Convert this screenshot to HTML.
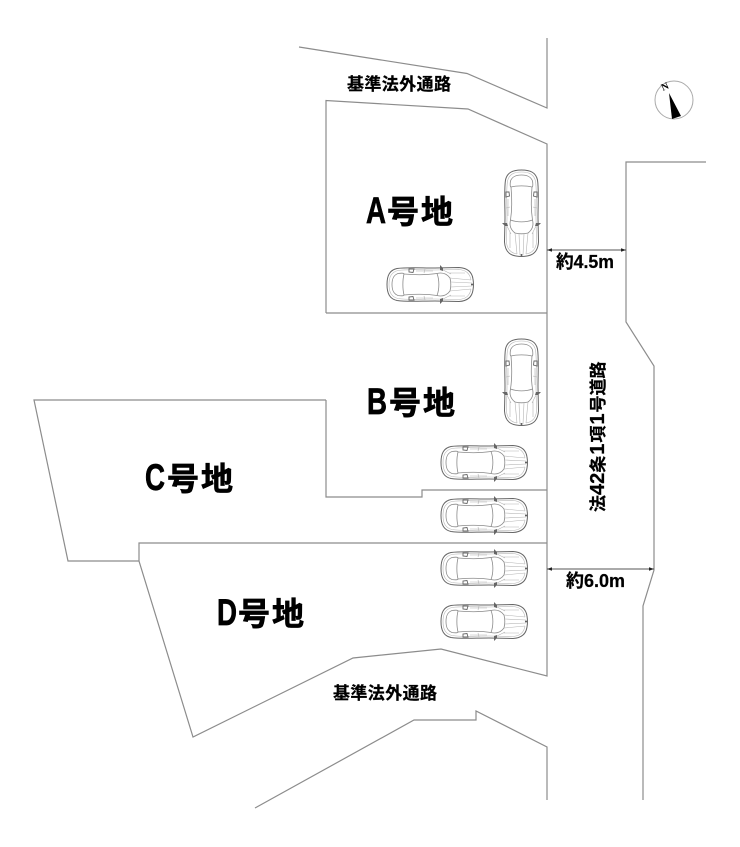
<!DOCTYPE html>
<html><head><meta charset="utf-8"><style>
html,body{margin:0;padding:0;background:#fff}
svg{display:block}
text{font-family:"Liberation Sans","Noto Sans CJK JP",sans-serif;font-weight:700;fill:#000}
.big{stroke:#000;stroke-width:.7}
.sm{stroke:#000;stroke-width:.25}
.l{fill:none;stroke:#8c8c8c;stroke-width:1.2}
.c{fill:none;stroke:#b4b4b4;stroke-width:.6}
.d{fill:none;stroke:#8a8a8a;stroke-width:.8}
.b{fill:#fff;stroke:#666;stroke-width:1}
</style></head><body>
<svg width="740" height="847" viewBox="0 0 740 847" xmlns="http://www.w3.org/2000/svg">
<defs>
<g id="car">
<path class="b" d="M0 19.500C0 10 3 5 10 3.500C20 2 34 3 48 3L72 2.500C80 3 85 7 86 14C86.700 18 86.700 21 86 25C85 32 80 36 72 36.500L48 36C34 36 20 37 10 35.500C3 34 0 29 0 19.500Z"/>
<path class="c" d="M2 19.500C2 11 5 7 11 5.500C21 4 34 5 48 5L72 4.500C79 5 83 9 84 15M2 19.500C2 28 5 32 11 33.500C21 35 34 34 48 34L72 34.500C79 34 83 30 84 24"/>
<path class="d" d="M5 19.500C5 13 7 10 11 8.500C14 8 17 8 17 9C15.500 15 15.500 24 17 30C17 31 14 31 11 30.500C7 29 5 26 5 19.500Z"/>
<path class="d" d="M17 9C28 10 40 10 50 8.500C52.500 15 52.500 24 50 30.500C40 29 28 29 17 30"/>
<path class="d" d="M50 8.500C56 7 60 9 63 13C64 17 64 22 63 26C60 30 56 32 50 30.500"/>
<path class="c" d="M63 13L84 15M64 17L85 18M64 22L85 21M63 26L84 24M62 8L78 8M62 31L78 31M56 5L64 9M56 34L64 30"/>
<path d="M22 4L22 7L26 7.500L27 4ZM22 35L22 32L26 31.500L27 35Z" fill="#fff" stroke="#666" stroke-width=".9"/>
<path class="c" d="M29 6L46 6M29 33L46 33M38 4L37 8M38 35L37 31"/>
<path d="M53 0L56 3L56 6L53 5ZM53 39L56 36L56 33L53 34Z" fill="#666"/>
<circle cx="85" cy="19.500" r="1" fill="#555"/>
</g>
</defs>
<path class="l" d="M299 47L467 73.500L547 108V38"/>
<path class="l" d="M326 313V100.500L468 109L547 144V676L441 649L353 658L193 737L139 561V543H547"/>
<path class="l" d="M326 313H547M326 400H34L68 561H139M326 400V497H422V490H547"/>
<path class="l" d="M255 808L414 720H476V711L547 747V800"/>
<path class="l" d="M706 162H626V322L654 366V570L643 606V800"/>

<path d="M547 250H626M547 569H654" stroke="#555" stroke-width="1" fill="none"/>
<path d="M547 250l5-1.700v3.400zM626 250l-5-1.700v3.400zM547 569l5-1.700v3.400zM654 569l-5-1.700v3.400z" fill="#222"/>

<use href="#car" transform="translate(541,170) rotate(90)"/>
<use href="#car" transform="translate(541,339) rotate(90)"/>
<use href="#car" transform="translate(387,265)"/>
<use href="#car" transform="translate(441,443)"/>
<use href="#car" transform="translate(441,496)"/>
<use href="#car" transform="translate(441,549)"/>
<use href="#car" transform="translate(441,602)"/>

<g class="big">
<text x="366" y="223" font-size="37" textLength="20" lengthAdjust="spacingAndGlyphs">A</text>
<text x="387" y="223" font-size="32" textLength="66" lengthAdjust="spacing">号地</text>
<text x="367" y="414" font-size="37" textLength="20" lengthAdjust="spacingAndGlyphs">B</text>
<text x="389" y="414" font-size="32" textLength="66" lengthAdjust="spacing">号地</text>
<text x="145" y="490" font-size="37" textLength="20" lengthAdjust="spacingAndGlyphs">C</text>
<text x="167" y="490" font-size="32" textLength="66" lengthAdjust="spacing">号地</text>
<text x="217" y="625" font-size="37" textLength="20" lengthAdjust="spacingAndGlyphs">D</text>
<text x="238" y="625" font-size="32" textLength="66" lengthAdjust="spacing">号地</text>
</g>
<g class="sm">
<text x="347" y="90" font-size="17" textLength="104" lengthAdjust="spacing">基準法外通路</text>
<text x="333" y="699" font-size="17" textLength="104" lengthAdjust="spacing">基準法外通路</text>
<text x="556" y="268" font-size="18" textLength="58" lengthAdjust="spacingAndGlyphs">約4.5m</text>
<text x="566" y="587" font-size="18" textLength="59" lengthAdjust="spacingAndGlyphs">約6.0m</text>
<text transform="translate(604,512) rotate(-90)" font-size="17">法<tspan font-size="20">42</tspan>条<tspan dx="1" font-size="20">1</tspan><tspan dx="1">項</tspan><tspan dx="1" font-size="20">1</tspan><tspan dx="1">号</tspan>道路</text>
</g>

<circle cx="674" cy="100" r="19" fill="#fff" stroke="#aaa" stroke-width="1"/>
<path d="M669 93L681 116L672 119Z" fill="#000"/>
<text transform="translate(663,91) rotate(-25)" font-size="10" style="font-family:'Liberation Serif',serif">N</text>
</svg>
</body></html>
